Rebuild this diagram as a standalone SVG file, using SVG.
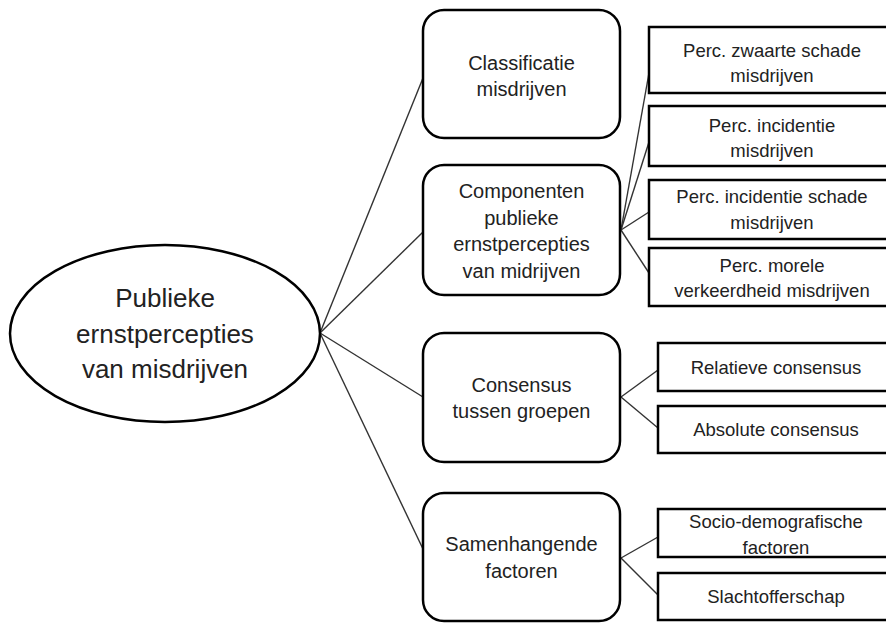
<svg xmlns="http://www.w3.org/2000/svg" width="886" height="623" viewBox="0 0 886 623">
<style>
.bg{fill:#fff}
.mid{fill:#fff;stroke:#000;stroke-width:2.5}
.leaf{fill:#fff;stroke:#000;stroke-width:2.5}
.ell{fill:#fff;stroke:#000;stroke-width:2.5}
.conn line{stroke:#333;stroke-width:1.4}
text{font-family:"Liberation Sans",Arial,sans-serif;fill:#222;text-anchor:middle}
.t-root{font-size:26px}
.t-mid{font-size:20px}
.t-leaf{font-size:18.5px}
</style>
<rect class="bg" x="0" y="0" width="886" height="623"/>
<g id="connectors" class="conn">
<line x1="320" y1="333" x2="423" y2="78"/>
<line x1="320" y1="333" x2="423" y2="232"/>
<line x1="320" y1="333" x2="423" y2="397"/>
<line x1="320" y1="333" x2="423" y2="549"/>
<line x1="621" y1="230" x2="649" y2="73"/>
<line x1="621" y1="230" x2="649" y2="142"/>
<line x1="621" y1="230" x2="649" y2="212"/>
<line x1="621" y1="230" x2="649" y2="273"/>
<line x1="621" y1="397" x2="658" y2="370"/>
<line x1="621" y1="397" x2="658" y2="428"/>
<line x1="621" y1="558" x2="658" y2="537"/>
<line x1="621" y1="558" x2="658" y2="595"/>
</g>
<g id="root">
<ellipse class="ell" cx="165" cy="333.5" rx="155" ry="88.5"/>
<text class="t-root" x="165" y="307">Publieke</text>
<text class="t-root" x="165" y="343">ernstpercepties</text>
<text class="t-root" x="165" y="378">van misdrijven</text>
</g>
<g id="classificatie">
<rect class="mid" x="423" y="10" width="197" height="128" rx="21"/>
<text class="t-mid" x="521.5" y="70">Classificatie</text>
<text class="t-mid" x="521.5" y="96">misdrijven</text>
</g>
<g id="componenten">
<rect class="mid" x="423" y="165" width="197" height="130" rx="21"/>
<text class="t-mid" x="521.5" y="198">Componenten</text>
<text class="t-mid" x="521.5" y="224.5">publieke</text>
<text class="t-mid" x="521.5" y="251">ernstpercepties</text>
<text class="t-mid" x="521.5" y="277.5">van midrijven</text>
</g>
<g id="consensus">
<rect class="mid" x="423" y="333" width="197" height="129" rx="21"/>
<text class="t-mid" x="521.5" y="392">Consensus</text>
<text class="t-mid" x="521.5" y="418">tussen groepen</text>
</g>
<g id="samenhangende">
<rect class="mid" x="423" y="493" width="197" height="128" rx="21"/>
<text class="t-mid" x="521.5" y="551">Samenhangende</text>
<text class="t-mid" x="521.5" y="578">factoren</text>
</g>
<g id="perc-zwaarte">
<rect class="leaf" x="649" y="27" width="250" height="66"/>
<text class="t-leaf" x="772" y="57">Perc. zwaarte schade</text>
<text class="t-leaf" x="772" y="82">misdrijven</text>
</g>
<g id="perc-incidentie">
<rect class="leaf" x="649" y="106" width="250" height="60"/>
<text class="t-leaf" x="772" y="132">Perc. incidentie</text>
<text class="t-leaf" x="772" y="157">misdrijven</text>
</g>
<g id="perc-incidentie-schade">
<rect class="leaf" x="649" y="180" width="250" height="59"/>
<text class="t-leaf" x="772" y="203">Perc. incidentie schade</text>
<text class="t-leaf" x="772" y="229">misdrijven</text>
</g>
<g id="perc-morele">
<rect class="leaf" x="649" y="248" width="250" height="58"/>
<text class="t-leaf" x="772" y="272">Perc. morele</text>
<text class="t-leaf" x="772" y="297">verkeerdheid misdrijven</text>
</g>
<g id="relatieve">
<rect class="leaf" x="658" y="343" width="250" height="48"/>
<text class="t-leaf" x="776" y="374">Relatieve consensus</text>
</g>
<g id="absolute">
<rect class="leaf" x="658" y="406" width="250" height="47"/>
<text class="t-leaf" x="776" y="436">Absolute consensus</text>
</g>
<g id="socio">
<rect class="leaf" x="658" y="509" width="250" height="48"/>
<text class="t-leaf" x="776" y="528">Socio-demografische</text>
<text class="t-leaf" x="776" y="554">factoren</text>
</g>
<g id="slachtoffer">
<rect class="leaf" x="658" y="573" width="250" height="47"/>
<text class="t-leaf" x="776" y="603">Slachtofferschap</text>
</g>
</svg>
